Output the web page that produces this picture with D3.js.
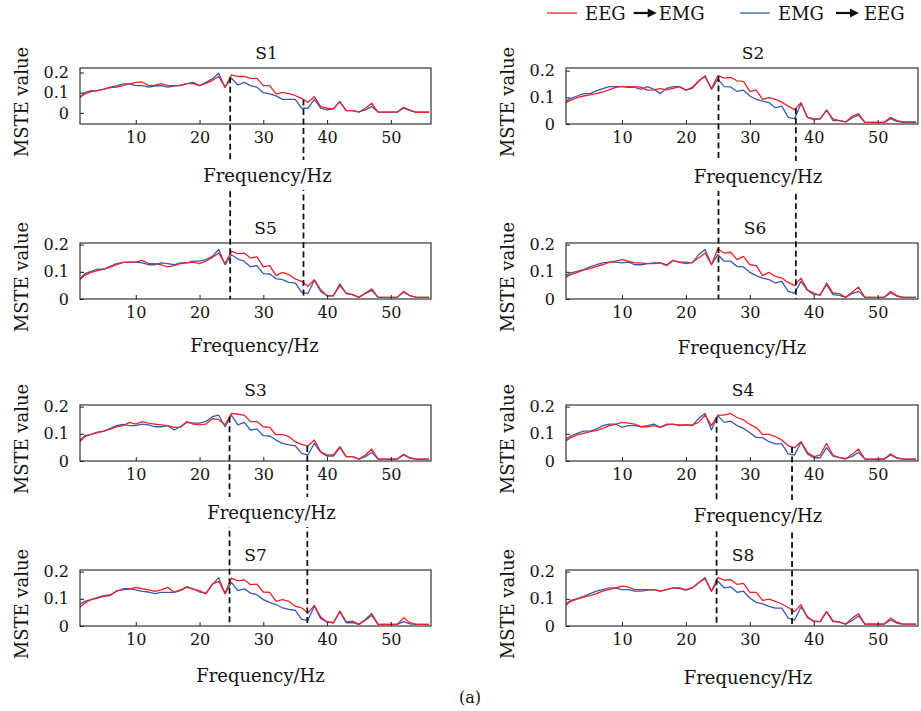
<!DOCTYPE html>
<html>
<head>
<meta charset="utf-8">
<script src="https://cdn.jsdelivr.net/npm/d3@7"></script>
<style>
  body { margin: 0; background: #fff; }
  text { font-family: "DejaVu Serif", serif; fill: #111; }
  .tick text { font-size: 16px; }
  .ylabel, .xlabel { font-size: 18px; }
  .title { font-size: 17px; }
  .legend-text { font-size: 18px; }
</style>
</head>
<body>
<div id="chart"></div>
<script>

// frequency grid (Hz) and axis ticks
const freqs = d3.range(1, 57);
const xTicks = [10, 20, 30, 40, 50];
const yTicks = [0, 0.1, 0.2];
const seriesNames = ["EEG", "EMG"];

// EEG -> EMG (red) and EMG -> EEG (blue), one pair per subject
const s1Fwd = [0.072,0.094,0.105,0.110,0.117,0.125,0.127,0.135,0.143,0.151,
  0.153,0.135,0.137,0.145,0.135,0.135,0.137,0.145,0.145,0.135,
  0.146,0.160,0.180,0.127,0.188,0.180,0.180,0.171,0.171,0.135,
  0.135,0.094,0.102,0.095,0.086,0.072,0.051,0.080,0.031,0.023,
  0.020,0.056,0.011,0.011,0.004,0.023,0.048,0.004,0.004,0.004,
  0.004,0.028,0.014,0.003,0.003,0.003];
const s1Bwd = [0.072,0.100,0.110,0.110,0.118,0.127,0.133,0.143,0.143,0.135,
  0.135,0.127,0.133,0.135,0.127,0.133,0.135,0.145,0.151,0.135,
  0.151,0.168,0.196,0.127,0.171,0.138,0.151,0.135,0.127,0.100,
  0.094,0.084,0.067,0.067,0.067,0.023,0.023,0.067,0.023,0.015,
  0.020,0.056,0.011,0.011,0.005,0.015,0.031,0.004,0.004,0.004,
  0.004,0.023,0.011,0.003,0.003,0.003];

const s2Fwd = [0.077,0.089,0.099,0.105,0.109,0.114,0.120,0.128,0.137,0.140,
  0.140,0.140,0.137,0.127,0.128,0.133,0.128,0.134,0.140,0.127,
  0.137,0.162,0.177,0.133,0.181,0.172,0.175,0.162,0.160,0.122,
  0.127,0.092,0.099,0.092,0.082,0.067,0.054,0.080,0.025,0.019,
  0.019,0.052,0.019,0.013,0.008,0.029,0.039,0.006,0.006,0.006,
  0.006,0.025,0.013,0.008,0.008,0.008];
const s2Bwd = [0.082,0.096,0.105,0.114,0.114,0.124,0.133,0.140,0.140,0.140,
  0.137,0.137,0.130,0.140,0.130,0.114,0.134,0.140,0.140,0.127,
  0.134,0.160,0.181,0.130,0.168,0.140,0.139,0.122,0.127,0.105,
  0.092,0.086,0.080,0.061,0.067,0.025,0.020,0.077,0.025,0.016,
  0.019,0.052,0.013,0.013,0.008,0.023,0.033,0.006,0.006,0.006,
  0.006,0.020,0.010,0.006,0.006,0.006];

const s5Fwd = [0.067,0.087,0.098,0.104,0.110,0.117,0.126,0.135,0.136,0.136,
  0.142,0.130,0.130,0.126,0.118,0.123,0.130,0.133,0.136,0.130,
  0.139,0.153,0.169,0.130,0.175,0.167,0.169,0.151,0.155,0.118,
  0.123,0.086,0.098,0.090,0.074,0.065,0.047,0.071,0.034,0.012,
  0.012,0.049,0.022,0.016,0.006,0.022,0.037,0.006,0.006,0.006,
  0.006,0.028,0.012,0.006,0.006,0.006];
const s5Bwd = [0.067,0.093,0.102,0.110,0.110,0.120,0.130,0.135,0.136,0.136,
  0.133,0.126,0.126,0.133,0.130,0.126,0.133,0.133,0.139,0.139,
  0.145,0.157,0.182,0.126,0.163,0.147,0.139,0.118,0.123,0.093,
  0.092,0.075,0.071,0.061,0.059,0.025,0.020,0.069,0.028,0.012,
  0.012,0.056,0.020,0.016,0.006,0.020,0.032,0.006,0.006,0.006,
  0.006,0.025,0.012,0.006,0.006,0.006];

const s6Fwd = [0.077,0.090,0.098,0.106,0.112,0.120,0.126,0.135,0.139,0.145,
  0.139,0.133,0.133,0.130,0.130,0.133,0.123,0.142,0.135,0.130,
  0.135,0.151,0.169,0.126,0.184,0.169,0.172,0.145,0.157,0.126,
  0.123,0.086,0.098,0.083,0.077,0.061,0.049,0.077,0.034,0.022,
  0.013,0.059,0.022,0.020,0.006,0.025,0.044,0.006,0.006,0.006,
  0.006,0.028,0.012,0.006,0.006,0.006];
const s6Bwd = [0.083,0.096,0.102,0.108,0.118,0.126,0.133,0.136,0.136,0.133,
  0.136,0.126,0.126,0.130,0.133,0.133,0.126,0.142,0.136,0.136,
  0.133,0.163,0.182,0.126,0.163,0.139,0.139,0.120,0.118,0.098,
  0.086,0.077,0.071,0.059,0.065,0.028,0.022,0.065,0.032,0.016,
  0.016,0.053,0.016,0.013,0.006,0.020,0.028,0.006,0.006,0.006,
  0.006,0.022,0.010,0.006,0.006,0.006];

const s3Fwd = [0.065,0.090,0.098,0.104,0.110,0.117,0.126,0.130,0.142,0.136,
  0.145,0.139,0.136,0.133,0.130,0.124,0.124,0.145,0.136,0.133,
  0.136,0.155,0.153,0.133,0.175,0.172,0.169,0.145,0.145,0.126,
  0.124,0.096,0.098,0.090,0.071,0.061,0.055,0.077,0.034,0.022,
  0.022,0.053,0.016,0.016,0.007,0.022,0.044,0.007,0.007,0.007,
  0.007,0.025,0.012,0.007,0.007,0.007];
const s3Bwd = [0.071,0.093,0.098,0.106,0.110,0.120,0.130,0.135,0.130,0.130,
  0.136,0.133,0.126,0.126,0.130,0.114,0.126,0.142,0.139,0.139,
  0.145,0.163,0.169,0.126,0.169,0.133,0.142,0.114,0.118,0.093,
  0.092,0.077,0.065,0.059,0.056,0.028,0.022,0.065,0.032,0.018,
  0.018,0.049,0.016,0.016,0.007,0.016,0.032,0.007,0.007,0.007,
  0.007,0.022,0.010,0.007,0.007,0.007];

const s4Fwd = [0.071,0.086,0.096,0.102,0.108,0.112,0.120,0.130,0.135,0.142,
  0.139,0.136,0.126,0.126,0.130,0.124,0.136,0.135,0.133,0.133,
  0.133,0.142,0.169,0.130,0.169,0.169,0.175,0.160,0.151,0.135,
  0.123,0.098,0.098,0.090,0.077,0.056,0.049,0.071,0.032,0.016,
  0.022,0.065,0.022,0.012,0.007,0.025,0.044,0.007,0.007,0.007,
  0.007,0.026,0.012,0.007,0.007,0.007];
const s4Bwd = [0.077,0.092,0.102,0.110,0.110,0.117,0.130,0.136,0.136,0.124,
  0.130,0.130,0.126,0.130,0.136,0.124,0.133,0.136,0.130,0.133,
  0.130,0.157,0.175,0.114,0.167,0.142,0.147,0.130,0.120,0.104,
  0.087,0.086,0.071,0.063,0.063,0.026,0.022,0.069,0.026,0.012,
  0.012,0.049,0.018,0.013,0.010,0.016,0.032,0.007,0.007,0.007,
  0.007,0.022,0.010,0.007,0.007,0.007];

const s7Fwd = [0.064,0.085,0.097,0.103,0.109,0.112,0.130,0.133,0.136,0.142,
  0.137,0.133,0.127,0.133,0.142,0.125,0.133,0.142,0.136,0.130,
  0.118,0.154,0.164,0.121,0.176,0.166,0.170,0.152,0.154,0.125,
  0.124,0.091,0.097,0.091,0.073,0.067,0.048,0.076,0.033,0.015,
  0.012,0.055,0.015,0.018,0.006,0.021,0.039,0.006,0.006,0.006,
  0.006,0.030,0.012,0.006,0.006,0.006];
const s7Bwd = [0.076,0.091,0.097,0.105,0.112,0.115,0.127,0.137,0.137,0.133,
  0.127,0.125,0.119,0.124,0.124,0.124,0.130,0.145,0.136,0.125,
  0.121,0.152,0.178,0.118,0.160,0.130,0.137,0.121,0.115,0.097,
  0.087,0.079,0.067,0.061,0.058,0.024,0.021,0.073,0.027,0.015,
  0.012,0.052,0.012,0.012,0.006,0.024,0.046,0.006,0.006,0.006,
  0.006,0.016,0.008,0.006,0.006,0.006];

const s8Fwd = [0.072,0.091,0.099,0.106,0.112,0.119,0.128,0.134,0.140,0.147,
  0.143,0.134,0.134,0.134,0.134,0.128,0.134,0.140,0.140,0.134,
  0.140,0.159,0.174,0.128,0.178,0.169,0.171,0.153,0.157,0.124,
  0.124,0.094,0.099,0.091,0.081,0.068,0.053,0.078,0.031,0.019,
  0.016,0.053,0.019,0.014,0.007,0.029,0.045,0.007,0.007,0.007,
  0.007,0.029,0.014,0.007,0.007,0.007];
const s8Bwd = [0.078,0.094,0.101,0.109,0.119,0.128,0.134,0.140,0.140,0.134,
  0.134,0.128,0.128,0.132,0.134,0.128,0.134,0.140,0.138,0.132,
  0.140,0.159,0.178,0.128,0.165,0.140,0.144,0.124,0.128,0.103,
  0.087,0.081,0.072,0.066,0.066,0.029,0.022,0.070,0.035,0.016,
  0.016,0.053,0.016,0.014,0.007,0.020,0.037,0.007,0.007,0.007,
  0.007,0.022,0.010,0.007,0.007,0.007];

// dashed marker frequencies for each stacked pair of panels
const markS1S5 = [24.8, 36.3];
const markS2S6 = [25.1, 37.2];
const markS3S7 = [24.7, 36.9];
const markS4S8 = [24.8, 36.6];

// ---------------- layout ----------------
const width = 921, height = 711;
const colX = [80, 566], colW = [351, 352];
const rowY = [68, 243, 405, 570], boxH = 56;
const xDomain = [1.25, 56.3];
const red = "#ee2229", blue = "#3a58b4";

const panels = [
  {name: "S1", fwd: s1Fwd, bwd: s1Bwd, col: 0, row: 0, yDomain: [-0.055, 0.222], titleDx: 11, labelDx: 12, labelDy: 51},
  {name: "S2", fwd: s2Fwd, bwd: s2Bwd, col: 1, row: 0, yDomain: [0, 0.21], titleDx: 11, labelDx: 16, labelDy: 52},
  {name: "S5", fwd: s5Fwd, bwd: s5Bwd, col: 0, row: 1, yDomain: [0, 0.206], titleDx: 10, labelDx: -1, labelDy: 46},
  {name: "S6", fwd: s6Fwd, bwd: s6Bwd, col: 1, row: 1, yDomain: [0, 0.206], titleDx: 13, labelDx: 0, labelDy: 48},
  {name: "S3", fwd: s3Fwd, bwd: s3Bwd, col: 0, row: 2, yDomain: [0, 0.206], titleDx: 0, labelDx: 16, labelDy: 51},
  {name: "S4", fwd: s4Fwd, bwd: s4Bwd, col: 1, row: 2, yDomain: [0, 0.206], titleDx: 1, labelDx: 16, labelDy: 54},
  {name: "S7", fwd: s7Fwd, bwd: s7Bwd, col: 0, row: 3, yDomain: [0, 0.206], titleDx: 0, labelDx: 5, labelDy: 49},
  {name: "S8", fwd: s8Fwd, bwd: s8Bwd, col: 1, row: 3, yDomain: [0, 0.206], titleDx: 1, labelDx: 6, labelDy: 51}
];

const markPairs = [
  {upper: "S1", lower: "S5", freqs: markS1S5},
  {upper: "S2", lower: "S6", freqs: markS2S6},
  {upper: "S3", lower: "S7", freqs: markS3S7},
  {upper: "S4", lower: "S8", freqs: markS4S8}
];


class PanelVis {

  constructor(parent, cfg) {
    this.parent = parent;
    this.cfg = cfg;
    this.initVis();
  }

  initVis() {
    let vis = this;
    let c = vis.cfg;

    vis.left = colX[c.col];
    vis.top = rowY[c.row];
    vis.w = colW[c.col];
    vis.h = boxH;

    vis.x = d3.scaleLinear().domain(xDomain).range([vis.left, vis.left + vis.w]);
    vis.y = d3.scaleLinear().domain(c.yDomain).range([vis.top + vis.h, vis.top]);

    vis.g = vis.parent.append("g").attr("class", "panel");

    vis.g.append("clipPath")
        .attr("id", "clip-" + c.name)
      .append("rect")
        .attr("x", vis.left)
        .attr("y", vis.top)
        .attr("width", vis.w)
        .attr("height", vis.h);

    vis.updateVis();
  }

  valueAt(f) {
    let vis = this;
    let at = arr => {
      let i = d3.bisectLeft(freqs, f);
      if (i <= 0) return arr[0];
      let t = (f - freqs[i - 1]) / (freqs[i] - freqs[i - 1]);
      return arr[i - 1] + t * (arr[i] - arr[i - 1]);
    };
    return Math.max(at(vis.cfg.fwd), at(vis.cfg.bwd));
  }

  updateVis() {
    let vis = this;
    let c = vis.cfg;

    let line = d3.line()
        .x((d, i) => vis.x(freqs[i]))
        .y(d => vis.y(d));

    vis.g.append("g")
        .attr("clip-path", "url(#clip-" + c.name + ")")
      .selectAll("path")
      .data([{v: c.bwd, color: blue}, {v: c.fwd, color: red}])
      .enter()
      .append("path")
        .attr("d", d => line(d.v))
        .attr("fill", "none")
        .attr("stroke", d => d.color)
        .attr("stroke-width", 1.3)
        .attr("stroke-linejoin", "round");

    vis.g.append("rect")
        .attr("x", vis.left)
        .attr("y", vis.top)
        .attr("width", vis.w)
        .attr("height", vis.h)
        .attr("fill", "none")
        .attr("stroke", "#222")
        .attr("stroke-width", 1.1);

    let xAxis = vis.g.append("g")
        .attr("transform", "translate(0," + (vis.top + vis.h) + ")")
        .call(d3.axisBottom(vis.x).tickValues(xTicks).tickSize(-4).tickPadding(8).tickFormat(d3.format("d")));
    let yAxis = vis.g.append("g")
        .attr("transform", "translate(" + vis.left + ",0)")
        .call(d3.axisLeft(vis.y).tickValues(yTicks).tickSize(-4).tickPadding(11).tickFormat(d => d === 0 ? "0" : d3.format(".1f")(d)));

    [xAxis, yAxis].forEach(a => {
      a.attr("font-family", null).attr("font-size", null).attr("color", "#222");
      a.select(".domain").remove();
    });

    vis.g.append("text")
        .attr("class", "title")
        .attr("x", vis.left + vis.w / 2 + c.titleDx)
        .attr("y", vis.top - 15)
        .attr("text-anchor", "middle")
        .attr("dominant-baseline", "central")
        .text(c.name);

    vis.g.append("text")
        .attr("class", "ylabel")
        .attr("transform", "translate(" + (vis.left - 59) + "," + (vis.top + vis.h / 2 + 6) + ") rotate(-90)")
        .attr("text-anchor", "middle")
        .attr("dominant-baseline", "central")
        .text("MSTE value");
  }

  drawXLabel(layer) {
    let vis = this;
    let c = vis.cfg;
    let lg = layer.append("g");
    let cx = vis.left + vis.w / 2 + c.labelDx;
    let cy = vis.top + vis.h + c.labelDy;
    let bg = lg.append("rect").attr("fill", "#fff");
    let t = lg.append("text")
        .attr("class", "xlabel")
        .attr("x", cx)
        .attr("y", cy)
        .attr("text-anchor", "middle")
        .attr("dominant-baseline", "central")
        .text("Frequency/Hz");
    let tw = t.node().getComputedTextLength();
    bg.attr("x", cx - tw / 2 - 3).attr("y", cy - 15).attr("width", tw + 6).attr("height", 30);
  }
}


let svg = d3.select("#chart").append("svg")
    .attr("width", width)
    .attr("height", height);

let panelLayer = svg.append("g");
let markLayer = svg.append("g");
let labelLayer = svg.append("g");

let vises = {};
panels.forEach(p => { vises[p.name] = new PanelVis(panelLayer, p); });

// dashed markers from the upper curve down to the bottom of the lower panel
markPairs.forEach(mp => {
  let up = vises[mp.upper], lo = vises[mp.lower];
  markLayer.selectAll(null)
    .data(mp.freqs)
    .enter()
    .append("line")
      .attr("x1", f => up.x(f))
      .attr("x2", f => up.x(f))
      .attr("y1", f => up.y(up.valueAt(f)))
      .attr("y2", lo.top + lo.h)
      .attr("stroke", "#111")
      .attr("stroke-width", 1.8)
      .attr("stroke-dasharray", "6,3.5");
});

panels.forEach(p => vises[p.name].drawXLabel(labelLayer));

// legend
let legendItems = [
  {color: red, from: seriesNames[0], to: seriesNames[1], x: 547},
  {color: blue, from: seriesNames[1], to: seriesNames[0], x: 740}
];
let legend = svg.append("g").attr("class", "legend");
legendItems.forEach(item => {
  let ly = 13;
  legend.append("line")
      .attr("x1", item.x).attr("x2", item.x + 30)
      .attr("y1", ly).attr("y2", ly)
      .attr("stroke", item.color)
      .attr("stroke-width", 1.3);
  let t1 = legend.append("text")
      .attr("class", "legend-text")
      .attr("x", item.x + 38)
      .attr("y", ly)
      .attr("dominant-baseline", "central")
      .text(item.from);
  let ax = item.x + 38 + t1.node().getComputedTextLength() + (item.color === red ? 8 : 12);
  legend.append("line")
      .attr("x1", ax).attr("x2", ax + 16)
      .attr("y1", ly).attr("y2", ly)
      .attr("stroke", "#111")
      .attr("stroke-width", 2.2);
  legend.append("path")
      .attr("d", "M" + (ax + 14) + "," + (ly - 4.5) + "L" + (ax + 23) + "," + ly + "L" + (ax + 14) + "," + (ly + 4.5) + "Z")
      .attr("fill", "#111");
  legend.append("text")
      .attr("class", "legend-text")
      .attr("x", ax + (item.color === red ? 25 : 28))
      .attr("y", ly)
      .attr("dominant-baseline", "central")
      .text(item.to);
});

svg.append("text")
    .attr("x", 470)
    .attr("y", 697)
    .attr("text-anchor", "middle")
    .attr("dominant-baseline", "central")
    .style("font-size", "16px")
    .text("(a)");

</script>
</body>
</html>
